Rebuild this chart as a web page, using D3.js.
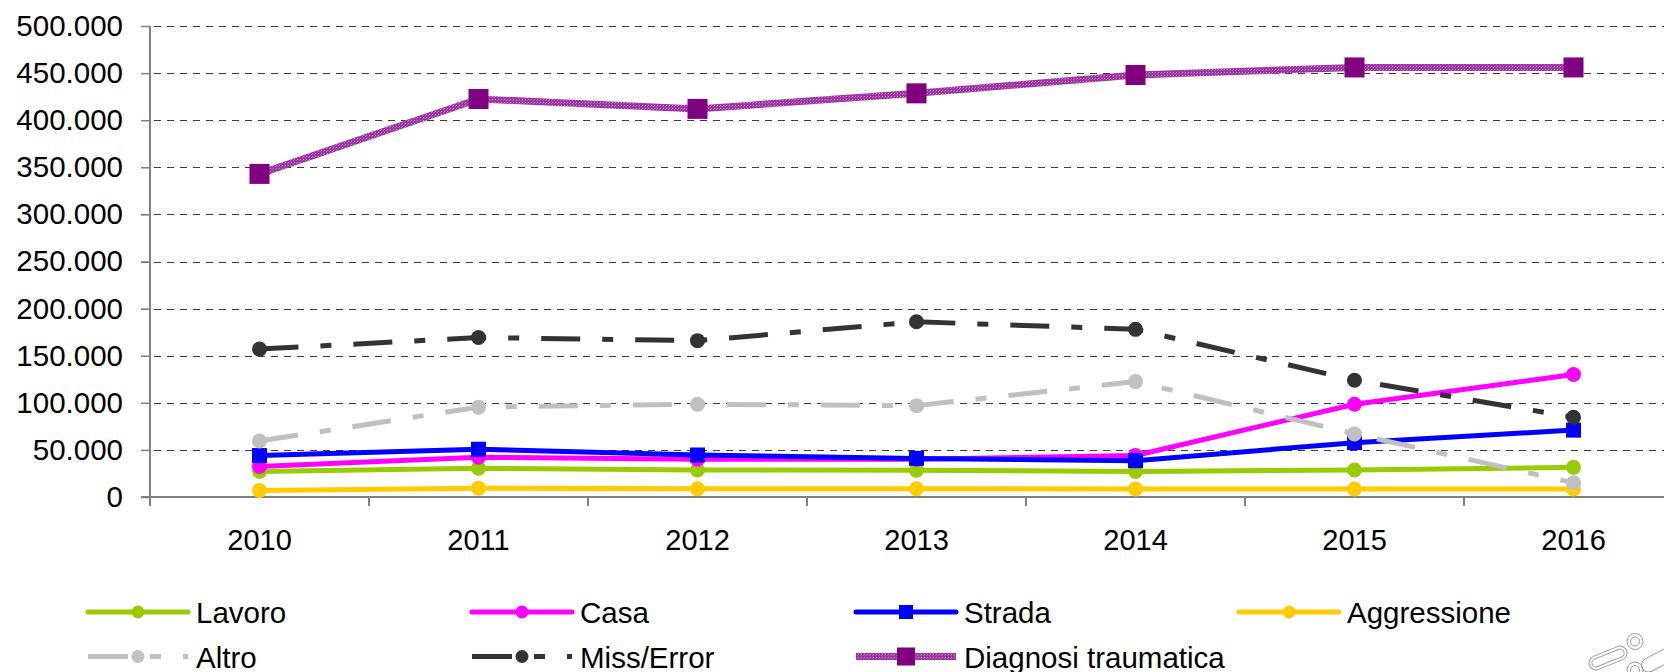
<!DOCTYPE html>
<html>
<head>
<meta charset="utf-8">
<script src="https://cdn.jsdelivr.net/npm/d3@7"></script>
<style>
  html, body { margin: 0; padding: 0; background: #fff; }
  svg { display: block; font-family: "Liberation Sans", Arial, sans-serif; }
</style>
</head>
<body>
<svg id="chart" width="1664" height="672"></svg>
<script>
// ---- Data ----
const years = ["2010", "2011", "2012", "2013", "2014", "2015", "2016"];
const lavoro      = [27000, 30600, 28700, 28400, 27000, 28700, 31500];
const casa        = [32400, 42200, 40000, 40000, 44000, 98500, 130000];
const strada      = [44000, 50700, 44600, 41000, 38600, 57700, 71000];
const aggressione = [7000, 9400, 8800, 8800, 8500, 8500, 8500];
const altro       = [59400, 95400, 98500, 97000, 122500, 67000, 15000];
const missError   = [157000, 169300, 166000, 186000, 178000, 124000, 84700];
const diagnosi    = [343000, 422500, 412000, 428500, 448000, 456000, 456000];
const yTicks = [0, 50000, 100000, 150000, 200000, 250000, 300000, 350000, 400000, 450000, 500000];
const seriesNames = ["Lavoro", "Casa", "Strada", "Aggressione", "Altro", "Miss/Error", "Diagnosi traumatica"];

const series = [
  { name: seriesNames[0], values: lavoro,      color: "#99CC00", marker: "circle", dash: null },
  { name: seriesNames[1], values: casa,        color: "#FF00FF", marker: "circle", dash: null },
  { name: seriesNames[2], values: strada,      color: "#0000FF", marker: "square", dash: null },
  { name: seriesNames[3], values: aggressione, color: "#FFCC00", marker: "circle", dash: null },
  { name: seriesNames[4], values: altro,       color: "#C0C0C0", marker: "circle", dash: "39,22,11,22" },
  { name: seriesNames[5], values: missError,   color: "#333333", marker: "circle", dash: "39,22,11,22" },
  { name: seriesNames[6], values: diagnosi,    color: "#800080", marker: "bigsquare", dash: null, textured: true }
];

const svg = d3.select("#chart");
const defs = svg.append("defs");
const pat = defs.append("pattern").attr("id", "hatch")
  .attr("patternUnits", "userSpaceOnUse").attr("width", 3).attr("height", 3);
pat.append("rect").attr("width", 3).attr("height", 3).attr("fill", "#98369e");
pat.append("rect").attr("x", 0).attr("y", 0).attr("width", 1).attr("height", 1).attr("fill", "#cf86d4");
pat.append("rect").attr("x", 2).attr("y", 1).attr("width", 1).attr("height", 1).attr("fill", "#b862bf");

const left = 150, bandW = 219;
const x = d3.scaleBand().domain(years).range([left, left + bandW * years.length]).paddingInner(0).paddingOuter(0);
const cx = d => x(d) + x.bandwidth() / 2;
const y = d3.scaleLinear().domain([0, 500000]).range([497, 26]);

const loc = d3.formatLocale({ decimal: ",", thousands: ".", grouping: [3], currency: ["€", ""] });
const fmt = loc.format(",");

// Gridlines
svg.append("g").selectAll("line").data(yTicks.filter(t => t > 0)).join("line")
  .attr("x1", 141).attr("x2", 1700)
  .attr("y1", d => Math.round(y(d)) + 0.5).attr("y2", d => Math.round(y(d)) + 0.5)
  .attr("stroke", "#3a3a3a").attr("stroke-width", 1).attr("stroke-dasharray", "7,6");

// Y axis
const yAxis = d3.axisLeft(y).tickValues(yTicks).tickFormat(fmt).tickSize(9).tickPadding(18);
const gy = svg.append("g").attr("transform", `translate(${left},0)`).call(yAxis);
gy.select(".domain").attr("stroke", "#808080").attr("stroke-width", 2).attr("d", `M0,${y(500000)}V${y(0)}`);
gy.selectAll(".tick line").attr("stroke", "#808080").attr("stroke-width", 1.5);
gy.selectAll(".tick text").attr("font-size", 29.5).attr("fill", "#000").attr("font-family", "Liberation Sans, Arial, sans-serif");

// X axis (ticks at band boundaries)
const gx = svg.append("g").attr("transform", `translate(0,${y(0)})`);
gx.append("line").attr("x1", 141).attr("x2", 1700).attr("y1", 0).attr("y2", 0)
  .attr("stroke", "#808080").attr("stroke-width", 2);
const bounds = years.map(d => x(d)).concat([x(years[years.length - 1]) + x.bandwidth()]);
gx.selectAll("line.tk").data(bounds).join("line").attr("class", "tk")
  .attr("x1", d => d).attr("x2", d => d).attr("y1", 0).attr("y2", 9)
  .attr("stroke", "#808080").attr("stroke-width", 2);
const xAxis = d3.axisBottom(x).tickSize(0).tickPadding(0);
const gxl = svg.append("g").attr("transform", `translate(0,${y(0)})`).call(xAxis);
gxl.select(".domain").remove();
gxl.selectAll(".tick text").attr("font-size", 29).attr("fill", "#000").attr("dy", null)
  .attr("y", 53).attr("font-family", "Liberation Sans, Arial, sans-serif");

// Lines
const line = d3.line().x((d, i) => cx(years[i])).y(d => y(d));
function drawMarker(g, type, color, px, py, legend) {
  if (type === "circle") {
    g.append("circle").attr("cx", px).attr("cy", py).attr("r", legend ? 6.5 : 7.5).attr("fill", color);
  } else if (type === "square") {
    const s = legend ? 14 : 15;
    g.append("rect").attr("x", px - s / 2).attr("y", py - s / 2).attr("width", s).attr("height", s).attr("fill", color);
  } else {
    const s = legend ? 18 : 20;
    g.append("rect").attr("x", px - s / 2).attr("y", py - s / 2).attr("width", s).attr("height", s).attr("fill", color);
  }
}

series.forEach(s => {
  const g = svg.append("g");
  const p = g.append("path").datum(s.values).attr("d", line).attr("fill", "none")
    .attr("stroke", s.textured ? "url(#hatch)" : s.color)
    .attr("stroke-width", s.textured ? 7 : 5)
    .attr("stroke-linejoin", "round");
  if (s.dash) p.attr("stroke-dasharray", s.dash);
  s.values.forEach((v, i) => drawMarker(g, s.marker, s.color, cx(years[i]), y(v), false));
});

// Legend
const colX = [88, 472, 856, 1239];
const rowY = [612, 656.5];
const legendPos = [[0,0],[1,0],[2,0],[3,0],[0,1],[1,1],[2,1]];
series.forEach((s, k) => {
  const [c, r] = legendPos[k];
  const lx = colX[c], ly = rowY[r];
  const g = svg.append("g");
  const l = g.append("line").attr("x1", lx).attr("x2", lx + 100).attr("y1", ly).attr("y2", ly)
    .attr("stroke", s.textured ? "url(#hatch)" : s.color).attr("stroke-width", s.textured ? 7 : 5);
  if (s.dash) l.attr("stroke-dasharray", "40,22,11,22").attr("stroke-linecap", "butt");
  else if (!s.textured) l.attr("stroke-linecap", "round");
  drawMarker(g, s.marker, s.color, lx + 50, ly, true);
  g.append("text").attr("x", lx + 108).attr("y", ly + 11).attr("font-size", 29.5).attr("fill", "#000")
    .text(s.name);
});

// Logo (partially cropped, bottom right)
const logo = svg.append("g").attr("fill", "none").attr("stroke", "#9a9a9a").attr("stroke-width", 1);
logo.append("circle").attr("cx", 1635).attr("cy", 641.5).attr("r", 8);
logo.append("circle").attr("cx", 1635).attr("cy", 641.5).attr("r", 4.5);
logo.append("rect").attr("x", 1588).attr("y", 651).attr("width", 40).attr("height", 14).attr("rx", 7)
  .attr("transform", "rotate(-22 1608 658)");
logo.append("rect").attr("x", 1591).attr("y", 654).attr("width", 34).attr("height", 8).attr("rx", 4)
  .attr("transform", "rotate(-22 1608 658)");
logo.append("rect").attr("x", 1640).attr("y", 652).attr("width", 40).attr("height", 14).attr("rx", 7)
  .attr("transform", "rotate(-28 1660 659)");
logo.append("circle").attr("cx", 1635).attr("cy", 670).attr("r", 8);
logo.append("circle").attr("cx", 1635).attr("cy", 670).attr("r", 4.5);
</script>
</body>
</html>
